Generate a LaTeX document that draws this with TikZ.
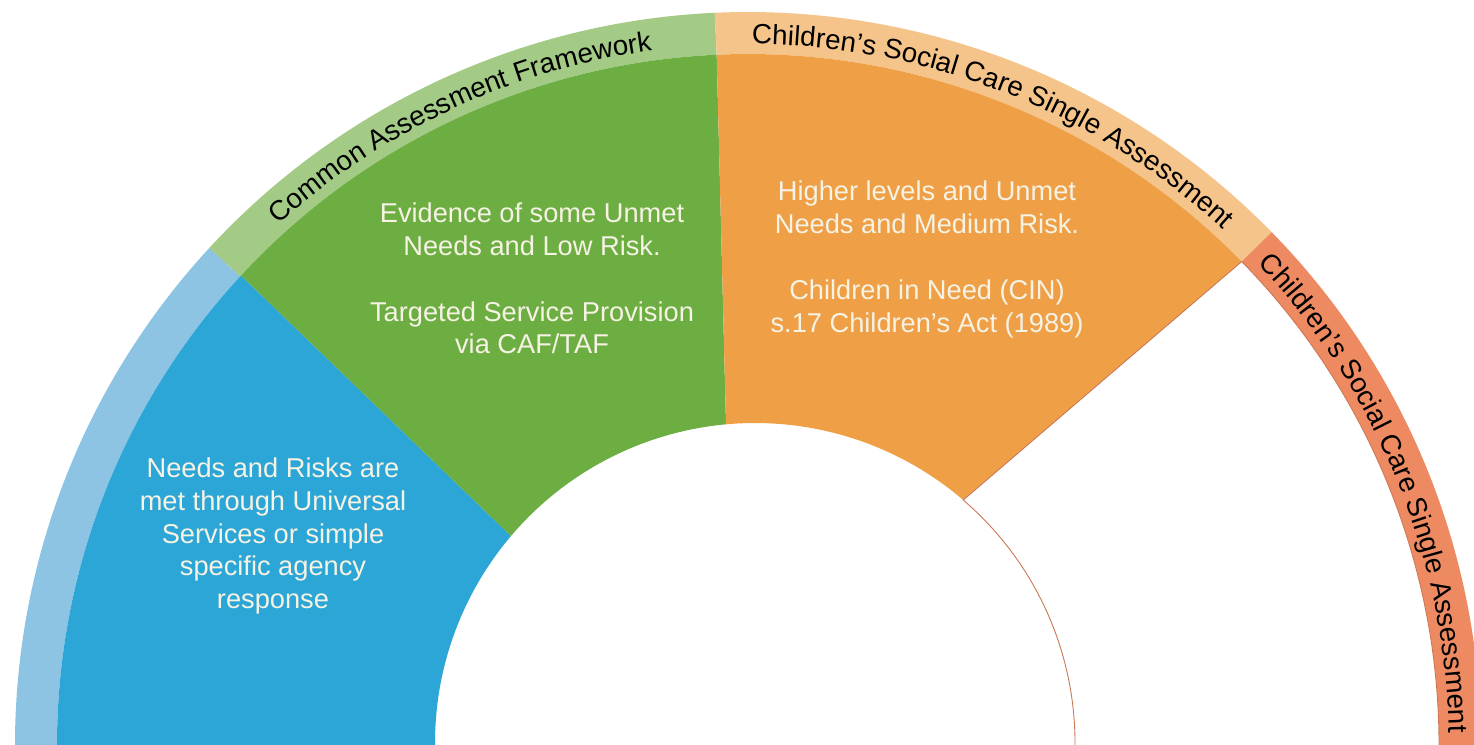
\documentclass[tikz,border=0pt]{standalone}
\usepackage{fontspec}
\setmainfont{Liberation Sans}
\usetikzlibrary{calc,decorations.text}
\definecolor{lightblue}{HTML}{8DC4E4}
\definecolor{blue}{HTML}{2CA6D6}
\definecolor{lightgreen}{HTML}{A4CB86}
\definecolor{green}{HTML}{6DAE43}
\definecolor{lightorange}{HTML}{F5C48A}
\definecolor{orange}{HTML}{EFA047}
\definecolor{salmon}{HTML}{EE8A62}
\definecolor{cream}{HTML}{F6F2E4}
\newcommand{\bandfont}{\fontsize{15.8}{18}\selectfont}

\begin{document}
\begin{tikzpicture}[x=0.02cm, y=0.02cm,
    every node/.style={text=cream, align=center, font=\fontsize{15.5}{18.7}\selectfont},
    bandtext/.style={decorate, decoration={text along path, text align=center, text={#1}}}]
  \useasboundingbox (0,0) rectangle (1474,744);
  \clip (0,0) rectangle (1474,744);
  \coordinate (O) at (748,-1);
  \coordinate (H) at (755,1);

  % outer band
  \fill[lightblue] ($(O)+(181:733)$) arc[start angle=181, end angle=137.3, radius=733]
    -- ($(O)+(137.3:691)$) arc[start angle=137.3, end angle=181, radius=691] -- cycle;
  \fill[lightgreen] ($(O)+(137.3:733)$) arc[start angle=137.3, end angle=92.6, radius=733]
    -- ($(O)+(92.6:691)$) arc[start angle=92.6, end angle=137.3, radius=691] -- cycle;
  \fill[lightorange] ($(O)+(92.6:733)$) arc[start angle=92.6, end angle=44.4, radius=733]
    -- ($(O)+(44.4:691)$) arc[start angle=44.4, end angle=92.6, radius=691] -- cycle;
  \fill[salmon] ($(O)+(44.4:733)$) arc[start angle=44.4, end angle=-1, radius=733]
    -- ($(O)+(-1:691)$) arc[start angle=-1, end angle=44.4, radius=691] -- cycle;

  % sectors
  \fill[blue] ($(O)+(181:691)$) arc[start angle=181, end angle=137.2, radius=691]
    -- ($(H)+(139.7:320)$) arc[start angle=139.7, end angle=181, radius=320] -- cycle;
  \fill[green] ($(O)+(137.2:691)$) arc[start angle=137.2, end angle=92.6, radius=691]
    -- ($(H)+(95.2:320)$) arc[start angle=95.2, end angle=139.7, radius=320] -- cycle;
  \fill[orange] ($(O)+(92.6:691)$) arc[start angle=92.6, end angle=44.4, radius=691]
    -- ($(H)+(49.4:320)$) arc[start angle=49.4, end angle=95.2, radius=320] -- cycle;
  \filldraw[fill=white, draw=salmon!85!black, line width=0.5pt]
    ($(O)+(44.4:691)$) arc[start angle=44.4, end angle=-1, radius=691]
    -- ($(H)+(-1:320)$) arc[start angle=-1, end angle=49.4, radius=320] -- cycle;

  % band labels
  \path[bandtext={|\bandfont|Common Assessment Framework}]
    ($(O)+(137.3:701)$) arc[start angle=137.3, end angle=92.6, radius=701];
  \path[bandtext={|\bandfont|Children’s Social Care Single Assessment}]
    ($(O)+(92.6:701)$) arc[start angle=92.6, end angle=44.4, radius=701];
  \path[bandtext={|\bandfont|Children’s Social Care Single Assessment}]
    ($(O)+(44.4:701)$) arc[start angle=44.4, end angle=0, radius=701];

  \node (universal) at (273,208) {Needs and Risks are\\met through Universal\\Services or simple\\specific agency\\response};
  \node (caf) at (532,465.5) {Evidence of some Unmet\\Needs and Low Risk.\\[18.7pt]Targeted Service Provision\\via CAF/TAF};
  \node (cin) at (927,484.5) {Higher levels and Unmet\\Needs and Medium Risk.\\[18.7pt]Children in Need (CIN)\\s.17 Children’s Act (1989)};
\end{tikzpicture}
\end{document}
